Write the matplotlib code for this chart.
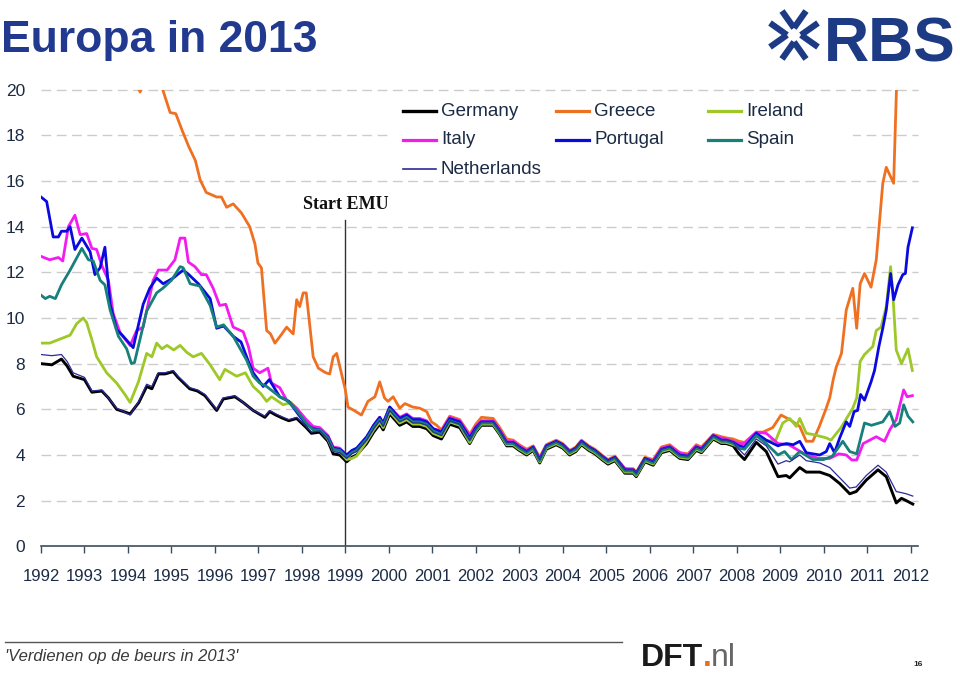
import matplotlib.pyplot as plt
from matplotlib.lines import Line2D
from matplotlib.patches import Rectangle

plt.rcParams['font.family'] = ['Liberation Sans', 'DejaVu Sans']

# ---- data: 10y government bond yields (%) ----
years = list(range(1992, 2013))

# dates shared by Germany and the Netherlands before the euro
core_early_t = [1992.0, 1992.25, 1992.47, 1992.6, 1992.74, 1993.0, 1993.17, 1993.4, 1993.55, 1993.74,
                1993.9, 1994.05, 1994.25, 1994.43, 1994.55, 1994.7, 1994.85, 1995.04, 1995.15, 1995.42,
                1995.6, 1995.77, 1996.04, 1996.19, 1996.46, 1996.65, 1996.88, 1997.15, 1997.26, 1997.4,
                1997.57, 1997.7, 1997.88, 1998.1, 1998.22, 1998.41, 1998.6, 1998.72, 1998.87]
# dates shared by all countries 1999 - mid 2008
emu_t = [1999.03, 1999.15, 1999.26, 1999.49, 1999.65, 1999.79, 1999.87,
         2000.02, 2000.25, 2000.41, 2000.55, 2000.71, 2000.87,
         2001.02, 2001.21, 2001.4, 2001.63, 2001.86,
         2002.0, 2002.13, 2002.4, 2002.55, 2002.71, 2002.86,
         2003.0, 2003.17, 2003.32, 2003.47, 2003.62, 2003.85,
         2004.0, 2004.16, 2004.3, 2004.43, 2004.6, 2004.74, 2004.9,
         2005.04, 2005.2, 2005.43, 2005.62, 2005.69, 2005.89,
         2006.08, 2006.27, 2006.46, 2006.69, 2006.88,
         2007.07, 2007.19, 2007.46, 2007.65, 2007.76, 2007.92,
         2008.05, 2008.18, 2008.45]
core_late_t = [2008.68, 2008.95, 2009.14, 2009.22, 2009.45, 2009.6, 2009.91, 2010.14, 2010.37, 2010.6,
               2010.75, 2010.98, 2011.25, 2011.44, 2011.67, 2011.79, 2011.9, 2012.05]

# Germany
germany_early = [8.0, 7.95, 8.2, 7.9, 7.45, 7.3, 6.75, 6.8, 6.5, 6.0, 5.9, 5.8, 6.3, 7.0, 6.9, 7.55, 7.55,
                 7.65, 7.4, 6.9, 6.8, 6.6, 5.95, 6.45, 6.55, 6.3, 5.95, 5.65, 5.9, 5.75, 5.6, 5.5, 5.6,
                 5.2, 4.95, 5.0, 4.6, 4.05, 4.0]
germany_emu = [3.7, 3.9, 4.0, 4.5, 5.0, 5.35, 5.1,
               5.8, 5.3, 5.45, 5.25, 5.25, 5.15,
               4.85, 4.7, 5.35, 5.2, 4.5,
               5.0, 5.3, 5.3, 4.9, 4.4, 4.4,
               4.2, 4.0, 4.2, 3.65, 4.25, 4.45,
               4.3, 4.0, 4.15, 4.45, 4.2, 4.05, 3.8,
               3.6, 3.75, 3.2, 3.2, 3.05, 3.7,
               3.55, 4.1, 4.2, 3.85, 3.8,
               4.2, 4.1, 4.7, 4.5, 4.5, 4.4,
               4.05, 3.8, 4.55]
germany_late = [4.15, 3.05, 3.1, 3.0, 3.45, 3.25, 3.25, 3.1, 2.75, 2.3, 2.4, 2.9, 3.35, 3.05, 1.9, 2.1,
                2.0, 1.85]

# Netherlands
netherlands_early = [8.4, 8.35, 8.4, 8.1, 7.6, 7.4, 6.8, 6.85, 6.5, 6.05, 5.9, 5.75, 6.35, 7.1, 7.0, 7.6,
                     7.6, 7.7, 7.45, 6.95, 6.85, 6.65, 6.0, 6.5, 6.6, 6.3, 5.95, 5.7, 5.95, 5.8, 5.65,
                     5.55, 5.65, 5.25, 5.0, 5.05, 4.7, 4.15, 4.1]
netherlands_emu = [3.85, 4.05, 4.15, 4.65, 5.15, 5.5, 5.25,
                   5.95, 5.45, 5.6, 5.4, 5.4, 5.3,
                   5.0, 4.85, 5.5, 5.35, 4.65,
                   5.15, 5.45, 5.45, 5.05, 4.55, 4.55,
                   4.35, 4.15, 4.35, 3.8, 4.4, 4.6,
                   4.45, 4.15, 4.3, 4.6, 4.35, 4.2, 3.95,
                   3.75, 3.9, 3.35, 3.35, 3.2, 3.85,
                   3.7, 4.25, 4.35, 4.0, 3.95,
                   4.35, 4.25, 4.85, 4.65, 4.65, 4.55,
                   4.25, 4.0, 4.7]
netherlands_late = [4.4, 3.6, 3.75, 3.7, 4.0, 3.75, 3.65, 3.45, 3.0, 2.55, 2.6, 3.1, 3.55, 3.25, 2.4,
                    2.35, 2.3, 2.2]

# Italy
italy_early_t = [1992.0, 1992.2, 1992.4, 1992.5, 1992.63, 1992.78, 1992.9, 1993.05, 1993.17, 1993.28,
                 1993.4, 1993.55, 1993.66, 1993.82, 1994.05, 1994.2, 1994.35, 1994.58, 1994.7, 1994.9,
                 1995.08, 1995.2, 1995.31, 1995.39, 1995.54, 1995.69, 1995.8, 1995.96, 1996.11, 1996.25,
                 1996.42, 1996.65, 1996.77, 1996.88, 1997.03, 1997.22, 1997.3, 1997.49, 1997.65, 1997.88,
                 1998.1, 1998.26, 1998.41, 1998.6, 1998.72, 1998.87]
italy_early = [12.7, 12.55, 12.65, 12.5, 14.0, 14.5, 13.65, 13.7, 13.05, 13.0, 12.3, 11.65, 10.2, 9.35,
               8.8, 9.45, 9.6, 11.65, 12.1, 12.1, 12.55, 13.5, 13.5, 12.45, 12.25, 11.9, 11.9, 11.3,
               10.55, 10.6, 9.6, 9.4, 8.75, 7.8, 7.6, 7.8, 7.15, 6.95, 6.4, 6.05, 5.55, 5.25, 5.2, 4.85,
               4.35, 4.3]
italy_emu = [4.0, 4.15, 4.2, 4.75, 5.3, 5.65, 5.4,
             6.1, 5.65, 5.8, 5.6, 5.6, 5.5,
             5.15, 5.05, 5.65, 5.5, 4.85,
             5.25, 5.5, 5.5, 5.1, 4.6, 4.6,
             4.4, 4.2, 4.35, 3.85, 4.4, 4.6,
             4.45, 4.15, 4.3, 4.6, 4.35, 4.2, 3.95,
             3.75, 3.9, 3.4, 3.35, 3.2, 3.85,
             3.75, 4.3, 4.4, 4.1, 4.0,
             4.4, 4.3, 4.85, 4.75, 4.7, 4.6,
             4.5, 4.5, 5.0]
italy_late_t = [2008.68, 2008.95, 2009.2, 2009.6, 2009.9, 2010.14, 2010.35, 2010.52, 2010.65, 2010.76,
                2010.91, 2011.21, 2011.4, 2011.52, 2011.67, 2011.84, 2011.92, 2012.04]
italy_late = [4.95, 4.5, 4.45, 4.0, 3.85, 3.85, 4.05, 4.0, 3.78, 3.78, 4.5, 4.8, 4.6, 5.1, 5.55, 6.85,
              6.55, 6.6]

# Portugal
portugal_early_t = [1992.0, 1992.13, 1992.28, 1992.4, 1992.47, 1992.59, 1992.67, 1992.78, 1992.94, 1993.13,
                    1993.24, 1993.36, 1993.47, 1993.59, 1993.74, 1993.89, 1994.12, 1994.35, 1994.5, 1994.66,
                    1994.81, 1995.04, 1995.27, 1995.4, 1995.62, 1995.89, 1996.04, 1996.2, 1996.42, 1996.6,
                    1996.77, 1996.88, 1997.11, 1997.25, 1997.49, 1997.7, 1997.95, 1998.1, 1998.26, 1998.41,
                    1998.6, 1998.72, 1998.87]
portugal_early = [15.3, 15.1, 13.55, 13.55, 13.8, 13.8, 14.0, 13.0, 13.5, 12.9, 11.9, 12.2, 13.1, 10.6,
                  9.5, 9.2, 8.7, 10.6, 11.3, 11.75, 11.5, 11.75, 12.1, 11.9, 11.5, 10.85, 9.55, 9.65,
                  9.2, 8.95, 8.1, 7.6, 7.0, 7.3, 6.55, 6.35, 5.7, 5.35, 5.15, 5.1, 4.8, 4.3, 4.25]
portugal_emu = [4.0, 4.2, 4.3, 4.8, 5.3, 5.65, 5.4,
                6.1, 5.6, 5.75, 5.55, 5.55, 5.45,
                5.15, 5.0, 5.6, 5.45, 4.75,
                5.2, 5.45, 5.45, 5.05, 4.55, 4.55,
                4.35, 4.15, 4.35, 3.8, 4.4, 4.6,
                4.45, 4.15, 4.3, 4.6, 4.35, 4.2, 3.95,
                3.75, 3.9, 3.35, 3.35, 3.2, 3.85,
                3.7, 4.25, 4.35, 4.0, 3.95,
                4.35, 4.25, 4.85, 4.65, 4.65, 4.55,
                4.4, 4.35, 4.95]
portugal_late_t = [2008.68, 2008.95, 2009.02, 2009.15, 2009.3, 2009.45, 2009.6, 2009.91, 2010.06, 2010.14,
                   2010.25, 2010.37, 2010.52, 2010.6, 2010.7, 2010.78, 2010.85, 2010.94, 2011.09, 2011.17,
                   2011.27, 2011.36, 2011.44, 2011.54, 2011.61, 2011.71, 2011.82, 2011.88, 2011.94, 2012.04]
portugal_late = [4.65, 4.4, 4.45, 4.5, 4.45, 4.6, 4.1, 4.0, 4.15, 4.5, 4.1, 4.75, 5.45, 5.25, 5.9, 5.95,
                 6.65, 6.4, 7.2, 7.7, 8.75, 9.55, 10.35, 11.95, 10.8, 11.45, 11.9, 11.95, 13.1, 13.95]

# Spain
spain_early_t = [1992.0, 1992.1, 1992.2, 1992.33, 1992.47, 1992.67, 1992.94, 1993.09, 1993.2, 1993.36,
                 1993.47, 1993.59, 1993.78, 1993.97, 1994.08, 1994.15, 1994.43, 1994.66, 1994.8, 1995.0,
                 1995.2, 1995.27, 1995.43, 1995.65, 1995.89, 1996.04, 1996.2, 1996.42, 1996.73, 1996.88,
                 1997.03, 1997.19, 1997.49, 1997.65, 1997.88, 1998.1, 1998.26, 1998.41, 1998.6, 1998.72,
                 1998.87]
spain_early = [11.0, 10.85, 10.95, 10.85, 11.45, 12.1, 13.05, 12.55, 12.5, 11.65, 11.45, 10.35, 9.2, 8.65,
               8.0, 8.05, 10.3, 11.1, 11.3, 11.65, 12.25, 12.2, 11.5, 11.4, 10.55, 9.6, 9.7, 9.2, 8.15,
               7.45, 7.15, 7.0, 6.55, 6.4, 5.95, 5.4, 5.1, 5.1, 4.75, 4.25, 4.2]
spain_emu = [3.9, 4.1, 4.2, 4.7, 5.2, 5.55, 5.3,
             6.0, 5.5, 5.65, 5.45, 5.45, 5.35,
             5.05, 4.9, 5.5, 5.35, 4.65,
             5.1, 5.4, 5.4, 5.0, 4.5, 4.5,
             4.3, 4.1, 4.3, 3.75, 4.35, 4.55,
             4.4, 4.1, 4.25, 4.55, 4.3, 4.15, 3.9,
             3.7, 3.85, 3.3, 3.3, 3.15, 3.8,
             3.65, 4.2, 4.3, 3.95, 3.9,
             4.3, 4.2, 4.8, 4.6, 4.6, 4.5,
             4.3, 4.25, 4.85]
spain_late_t = [2008.68, 2008.95, 2009.1, 2009.26, 2009.45, 2009.75, 2010.0, 2010.2, 2010.44, 2010.6,
                2010.76, 2010.94, 2011.1, 2011.36, 2011.52, 2011.64, 2011.75, 2011.84, 2011.94, 2012.05]
spain_late = [4.5, 4.0, 4.15, 3.8, 4.15, 3.8, 3.8, 3.95, 4.6, 4.15, 4.05, 5.4, 5.3, 5.45, 5.9, 5.25, 5.4,
              6.2, 5.7, 5.45]

# Ireland
ireland_early_t = [1992.0, 1992.2, 1992.4, 1992.67, 1992.82, 1992.97, 1993.05, 1993.17, 1993.28, 1993.51,
                   1993.74, 1993.93, 1994.05, 1994.24, 1994.43, 1994.55, 1994.66, 1994.78, 1994.9, 1995.05,
                   1995.2, 1995.35, 1995.5, 1995.69, 1995.89, 1996.11, 1996.23, 1996.5, 1996.7, 1996.88,
                   1997.05, 1997.19, 1997.3, 1997.57, 1997.75, 1997.9, 1998.1, 1998.26, 1998.41, 1998.6,
                   1998.72, 1998.87]
ireland_early = [8.9, 8.9, 9.05, 9.25, 9.75, 10.0, 9.8, 9.05, 8.3, 7.6, 7.15, 6.65, 6.3, 7.2, 8.45, 8.3,
                 8.9, 8.65, 8.8, 8.6, 8.8, 8.5, 8.3, 8.45, 7.95, 7.3, 7.75, 7.45, 7.6, 7.0, 6.7, 6.35,
                 6.55, 6.2, 6.3, 6.0, 5.4, 5.1, 5.1, 4.7, 4.2, 4.15]
ireland_emu = [3.8, 3.85, 3.95, 4.6, 5.1, 5.45, 5.2,
               5.9, 5.4, 5.55, 5.35, 5.35, 5.25,
               4.95, 4.8, 5.45, 5.3, 4.55,
               5.05, 5.35, 5.35, 4.95, 4.45, 4.45,
               4.25, 4.05, 4.25, 3.7, 4.3, 4.5,
               4.35, 4.05, 4.2, 4.5, 4.25, 4.1, 3.85,
               3.65, 3.8, 3.25, 3.25, 3.1, 3.75,
               3.6, 4.15, 4.25, 3.9, 3.85,
               4.25, 4.15, 4.75, 4.55, 4.55, 4.45,
               4.35, 4.3, 4.85]
ireland_late_t = [2008.68, 2008.9, 2009.06, 2009.22, 2009.37, 2009.45, 2009.6, 2009.75, 2010.06, 2010.17,
                  2010.4, 2010.67, 2010.76, 2010.84, 2010.94, 2011.13, 2011.21, 2011.32, 2011.44, 2011.54,
                  2011.59, 2011.67, 2011.79, 2011.94, 2012.04]
ireland_late = [4.6, 4.65, 5.4, 5.6, 5.25, 5.6, 4.95, 4.9, 4.75, 4.65, 5.2, 6.05, 6.5, 8.1, 8.4, 8.75,
                9.45, 9.6, 10.5, 12.25, 11.1, 8.6, 8.0, 8.65, 7.7]

# Greece (runs off the top of the scale before 1995 and after mid 2011)
greece_early_t = [1992.0, 1993.0, 1993.8, 1994.28, 1994.5, 1994.8, 1994.97, 1995.1, 1995.25, 1995.4,
                  1995.55, 1995.66, 1995.8, 1996.04, 1996.15, 1996.27, 1996.42, 1996.61, 1996.8, 1996.92,
                  1996.99, 1997.07, 1997.19, 1997.28, 1997.38, 1997.5, 1997.65, 1997.8, 1997.88, 1997.95,
                  1998.03, 1998.1, 1998.26, 1998.38, 1998.55, 1998.64, 1998.72, 1998.8, 1999.0, 1999.06,
                  1999.2, 1999.37, 1999.52, 1999.68, 1999.79, 1999.9, 1999.98, 2000.1, 2000.25, 2000.37,
                  2000.55, 2000.71, 2000.87, 2000.98, 2001.1, 2001.21]
greece_early = [24.0, 23.0, 22.0, 19.9, 21.5, 20.0, 19.0, 18.95, 18.2, 17.5, 16.9, 16.05, 15.5, 15.3,
                15.3, 14.85, 15.0, 14.6, 14.0, 13.25, 12.4, 12.2, 9.45, 9.3, 8.9, 9.2, 9.6, 9.3, 10.8,
                10.5, 11.1, 11.1, 8.3, 7.8, 7.6, 7.55, 8.3, 8.45, 6.85, 6.1, 5.95, 5.75, 6.35, 6.55, 7.2,
                6.5, 6.35, 6.55, 6.05, 6.25, 6.1, 6.05, 5.9, 5.45, 5.3, 5.1]
greece_emu = [5.7, 5.55, 4.9,
              5.35, 5.65, 5.6, 5.2, 4.7, 4.65,
              4.45, 4.25, 4.4, 3.9, 4.45, 4.65,
              4.5, 4.2, 4.35, 4.65, 4.4, 4.25, 4.0,
              3.8, 3.95, 3.4, 3.4, 3.25, 3.9,
              3.8, 4.35, 4.45, 4.1, 4.05,
              4.45, 4.35, 4.9, 4.8, 4.75, 4.7,
              4.6, 4.55, 5.0]
greece_late_t = [2008.6, 2008.83, 2009.02, 2009.22, 2009.45, 2009.6, 2009.75, 2009.9, 2010.05, 2010.14,
                 2010.22, 2010.29, 2010.41, 2010.52, 2010.67, 2010.76, 2010.84, 2010.94, 2011.09, 2011.21,
                 2011.36, 2011.44, 2011.61, 2011.69, 2011.8, 2011.9, 2012.04]
greece_late = [5.0, 5.2, 5.75, 5.55, 5.25, 4.6, 4.6, 5.25, 6.0, 6.5, 7.3, 7.85, 8.45, 10.35, 11.3, 9.55,
               11.5, 11.95, 11.35, 12.55, 15.9, 16.6, 15.9, 21.0, 23.0, 26.0, 28.0]

emu_start = 1999.0

# ---- figure ----
W, H = 960, 674


def fx(x):
    return x / W


def fy(y):
    return 1 - y / H


fig = plt.figure(figsize=(9.6, 6.74), dpi=100)
ax = fig.add_axes([fx(41), fy(546.3), (918 - 41) / W, (546.3 - 89.7) / H])

series = [
    ('Germany', core_early_t + emu_t + core_late_t, germany_early + germany_emu + germany_late, '#000000', 2.1),
    ('Greece', greece_early_t + emu_t[15:] + greece_late_t, greece_early + greece_emu + greece_late, '#f07022', 2.0),
    ('Ireland', ireland_early_t + emu_t + ireland_late_t, ireland_early + ireland_emu + ireland_late, '#9dc828', 2.0),
    ('Italy', italy_early_t + emu_t + italy_late_t, italy_early + italy_emu + italy_late, '#f21cf0', 2.0),
    ('Portugal', portugal_early_t + emu_t + portugal_late_t, portugal_early + portugal_emu + portugal_late, '#0a0ae0', 2.0),
    ('Spain', spain_early_t + emu_t + spain_late_t, spain_early + spain_emu + spain_late, '#17807a', 2.0),
    ('Netherlands', core_early_t + emu_t + core_late_t, netherlands_early + netherlands_emu + netherlands_late, '#2b2b9a', 0.9),
]

for name, t, v, col, lw in series:
    ax.plot(t, v, color=col, lw=lw, zorder=3, solid_joinstyle='round')

ax.set_xlim(1992, 2012.17)
ax.set_ylim(0, 20)

# dashed grid
for g in range(2, 21, 2):
    ax.axhline(g, color='#cccccc', lw=1.0, ls=(0, (7, 4)), zorder=1, clip_on=False)

ax.set_xticks(years)
ax.set_yticks(range(0, 21, 2))
for s in ['top', 'right', 'left']:
    ax.spines[s].set_visible(False)
ax.spines['bottom'].set_color('#3d4d5d')
ax.spines['bottom'].set_linewidth(1.2)
ax.tick_params(axis='x', length=5, width=1, color='#3d4d5d', pad=11, labelsize=12, labelcolor='#1c2b45')
ax.tick_params(axis='y', length=0, pad=11.5, labelsize=12.5, labelcolor='#1c2b45')

# start of EMU
ax.plot([emu_start, emu_start], [0, 14.3], color='#333333', lw=1.0, zorder=2)
ax.text(emu_start, 14.95, 'Start EMU', ha='center', va='center', fontsize=13, fontweight='bold',
        family=['Liberation Serif', 'DejaVu Serif'], color='#111111')

# legend (white box, 3 columns)
fig.add_artist(Rectangle((fx(393), fy(178)), (853 - 393) / W, (178 - 95) / H, transform=fig.transFigure,
                         facecolor='white', edgecolor='none', zorder=1))
col_x = [403, 556, 708]
row_y = [111, 140, 169]
for i, (name, t, v, col, lw) in enumerate(series):
    cx = col_x[i % 3]
    ry = row_y[i // 3]
    fig.add_artist(Line2D([fx(cx), fx(cx + 33)], [fy(ry), fy(ry)], color=col, lw=max(lw, 0.9) + 0.3,
                          transform=fig.transFigure, zorder=2))
    fig.text(fx(cx + 38), fy(ry), name, fontsize=13.5, color='#1c2b45', va='center', ha='left', zorder=2)

# title and logos
fig.text(fx(1), fy(52), 'Europa in 2013', fontsize=32, fontweight='bold', color='#213a8f',
         ha='left', va='baseline')
fig.text(fx(824), fy(62), 'RBS', fontsize=45, fontweight='bold', color='#1d3a85', ha='left', va='baseline')
cxl, cyl = 794, 35
for dx, dy in [(0, -1), (0, 1), (-1, 0), (1, 0)]:
    ax_x, ax_y = cxl + dx * 7, cyl + dy * 7
    for sgn in (-1, 1):
        ex = cxl + dx * 24 + sgn * dy * 12
        ey = cyl + dy * 24 + sgn * dx * 12
        fig.add_artist(Line2D([fx(ax_x), fx(ex)], [fy(ax_y), fy(ey)], color='#1d3a85', lw=4.5,
                              solid_capstyle='butt', transform=fig.transFigure))

# footer
fig.add_artist(Line2D([fx(5), fx(622)], [fy(642), fy(642)], color='#555555', lw=1.0, transform=fig.transFigure))
fig.text(fx(5), fy(657), "'Verdienen op de beurs in 2013'", fontsize=12, style='italic', color='#3a3a3a',
         ha='left', va='center')
fig.text(fx(641), fy(666), 'DFT', fontsize=23, fontweight='bold', color='#1a1a1a', ha='left', va='baseline')
fig.text(fx(703), fy(666), '.', fontsize=23, fontweight='bold', color='#e8701a', ha='left', va='baseline')
fig.text(fx(711), fy(666), 'nl', fontsize=23, color='#666666', ha='left', va='baseline')
fig.text(fx(918), fy(665), '16', fontsize=6, fontweight='bold', color='#222222', ha='center', va='center')

fig.savefig('out.png', dpi=100)
